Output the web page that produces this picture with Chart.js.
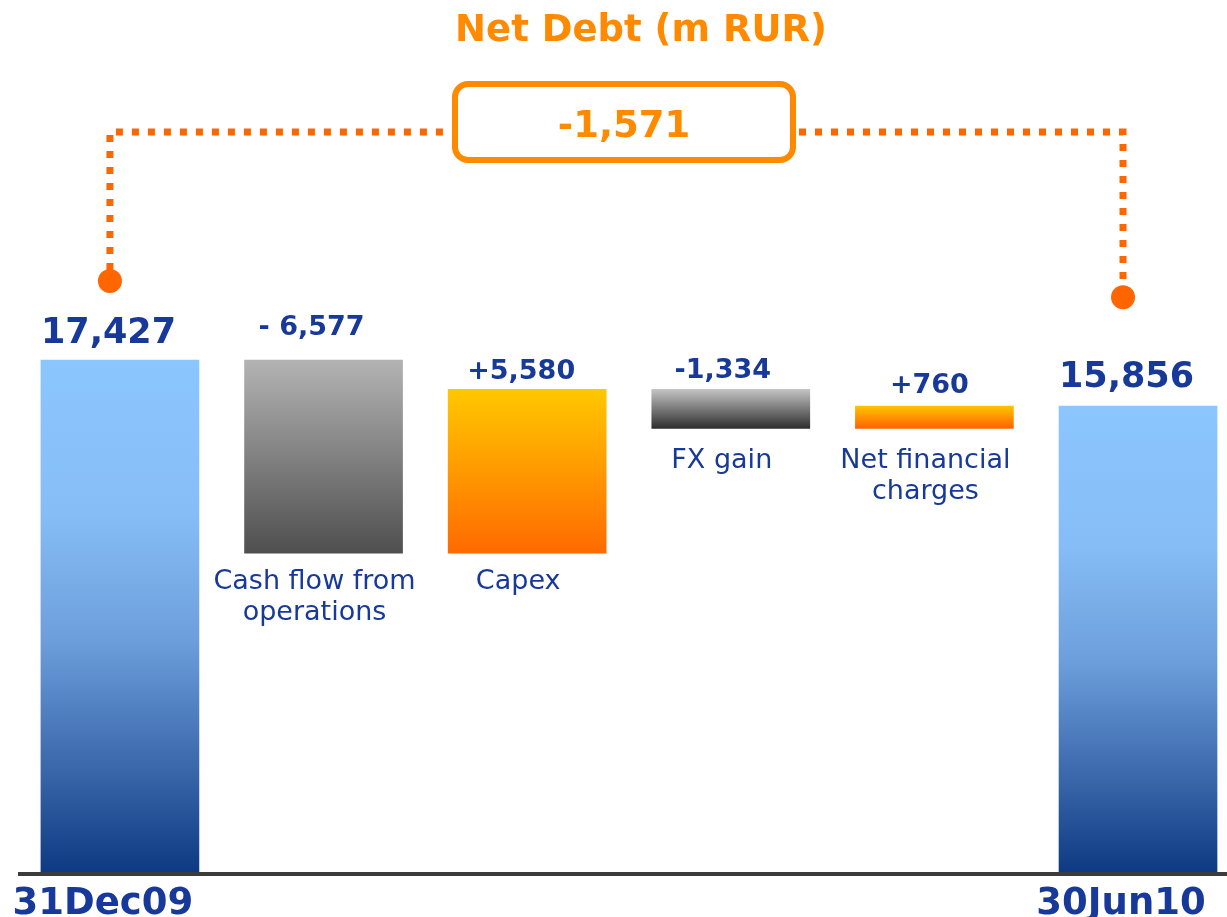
<!DOCTYPE html>
<html>
<head>
<meta charset="utf-8">
<script src="https://cdn.jsdelivr.net/npm/chart.js@4"></script>
<style>
  html, body { margin: 0; padding: 0; background: #fff; overflow: hidden; }
  #wrap { position: relative; width: 1227px; height: 917px; }
</style>
</head>
<body>
<div id="wrap"><canvas id="netDebt"></canvas></div>
<script>
// data (m RUR)
const categories = [['31Dec09'], ['Cash flow from', 'operations'], ['Capex'], ['FX gain'], ['Net financial', 'charges'], ['30Jun10']];
const openingDebt = 17427;
const movements = [-6577, 5580, -1334, 760];
const closingDebt = 15856;
const valueLabels = ['17,427', '- 6,577', '+5,580', '-1,334', '+760', '15,856'];
const chartTitle = 'Net Debt (m RUR)';

// build the waterfall ranges
let ranges = [[0, openingDebt]];
let running = openingDebt;
movements.forEach(m => {
    let next = running + m;
    ranges.push([Math.min(running, next), Math.max(running, next)]);
    running = next;
});
ranges.push([0, closingDebt]);

const points = ranges.map((r, i) => ({ x: i, y: r }));

// styling
const FONT = "'DejaVu Sans', Verdana, sans-serif";
const BLUE_TEXT = '#17399a';
const ORANGE = '#ff8a00';
const DOT_ORANGE = '#ff6600';
const labelLift = [17, 25, 10, 11, 13, 19];
const labelShift = [0, -12, -6, -8, -5, 0];

function barStops(i) {
    if (i === 0 || i === ranges.length - 1) {
        return [[0, '#8cc6ff'], [0.3, '#86bdf6'], [0.55, '#6c9edb'], [0.8, '#3a66aa'], [1, '#0d3a82']];
    }
    let m = movements[i - 1];
    if (m < 0) {
        return i === 1 ? [[0, '#b3b3b3'], [1, '#4f4f4f']] : [[0, '#c4c4c4'], [1, '#2e2e2e']];
    }
    return i === 2 ? [[0, '#ffc800'], [1, '#ff6a00']] : [[0, '#ffc400'], [1, '#ff6200']];
}

function barColor(ctx) {
    let chart = ctx.chart;
    let stops = barStops(ctx.dataIndex || 0);
    if (!chart.chartArea || ctx.type !== 'data') return stops[0][1];
    let y = chart.scales.y;
    let r = ranges[ctx.dataIndex];
    let g = chart.ctx.createLinearGradient(0, y.getPixelForValue(r[1]), 0, y.getPixelForValue(r[0]));
    stops.forEach(s => g.addColorStop(s[0], s[1]));
    return g;
}

const decorations = {
    id: 'decorations',
    afterDatasetsDraw(chart) {
        const ctx = chart.ctx;
        const x = chart.scales.x, y = chart.scales.y;
        const half = 79;
        const base = y.getPixelForValue(0);
        ctx.save();

        // axis line
        ctx.strokeStyle = '#3c3c3c';
        ctx.lineWidth = 4;
        ctx.beginPath();
        ctx.moveTo(18, base + 2);
        ctx.lineTo(chart.width, base + 2);
        ctx.stroke();

        // value labels
        ctx.fillStyle = BLUE_TEXT;
        ctx.textBaseline = 'alphabetic';
        ranges.forEach((r, i) => {
            let cx = x.getPixelForValue(i);
            let top = y.getPixelForValue(r[1]);
            let isEnd = (i === 0 || i === ranges.length - 1);
            if (isEnd) {
                ctx.font = 'bold 35px ' + FONT;
                ctx.textAlign = 'left';
                ctx.fillText(valueLabels[i], cx - half, top - labelLift[i]);
            } else {
                ctx.font = 'bold 27px ' + FONT;
                ctx.textAlign = 'center';
                ctx.fillText(valueLabels[i], cx + labelShift[i], top - labelLift[i]);
            }
        });

        // category labels under the floating bars
        ctx.font = '27px ' + FONT;
        ctx.textAlign = 'center';
        for (let i = 1; i < ranges.length - 1; i++) {
            let cx = x.getPixelForValue(i);
            let bottom = y.getPixelForValue(ranges[i][0]);
            let drop = bottom > 500 ? 36 : 40;
            categories[i].forEach((line, k) => {
                ctx.fillText(line, cx - 9, bottom + drop + k * 31);
            });
        }

        // date labels under the axis
        ctx.font = 'bold 37px ' + FONT;
        [0, ranges.length - 1].forEach(i => {
            ctx.fillText(categories[i][0], x.getPixelForValue(i) - 17, 914);
        });

        // title
        ctx.fillStyle = ORANGE;
        ctx.font = 'bold 37px ' + FONT;
        ctx.fillText(chartTitle, 641, 41);

        // connector between opening and closing
        let lx = x.getPixelForValue(0) - 10;
        let rx = x.getPixelForValue(ranges.length - 1) - 15;
        let lineY = 132;
        let boxL = 455, boxR = 793, boxT = 84, boxB = 160;
        ctx.strokeStyle = DOT_ORANGE;
        ctx.lineWidth = 7;
        ctx.setLineDash([7, 9]);
        ctx.beginPath();
        ctx.moveTo(lx, 270);
        ctx.lineTo(lx, lineY);
        ctx.lineTo(boxL - 6, lineY);
        ctx.moveTo(boxR + 6, lineY);
        ctx.lineTo(rx, lineY);
        ctx.lineTo(rx, 285);
        ctx.stroke();
        ctx.setLineDash([]);

        ctx.fillStyle = DOT_ORANGE;
        [[lx, y.getPixelForValue(ranges[0][1]) - 79], [rx, y.getPixelForValue(ranges[ranges.length - 1][1]) - 109]].forEach(p => {
            ctx.beginPath();
            ctx.arc(p[0], p[1], 12, 0, Math.PI * 2);
            ctx.fill();
        });

        // box with the change
        ctx.strokeStyle = ORANGE;
        ctx.lineWidth = 6;
        ctx.fillStyle = '#fff';
        ctx.beginPath();
        ctx.roundRect(boxL, boxT, boxR - boxL, boxB - boxT, 13);
        ctx.fill();
        ctx.stroke();

        let change = closingDebt - openingDebt;
        ctx.fillStyle = ORANGE;
        ctx.font = 'bold 37px ' + FONT;
        ctx.fillText(change.toLocaleString('en-US'), 624, 137);

        ctx.restore();
    }
};

new Chart(document.getElementById('netDebt'), {
    type: 'bar',
    data: {
        datasets: [{
            data: points,
            backgroundColor: barColor,
            borderWidth: 0,
            barThickness: 158
        }]
    },
    options: {
        responsive: true,
        maintainAspectRatio: false,
        animation: false,
        layout: { padding: { top: 0, left: 0, right: 0, bottom: 45 } },
        plugins: {
            legend: { display: false },
            tooltip: { enabled: false }
        },
        scales: {
            x: { type: 'linear', min: -0.589, max: 5.437, offset: false, display: false, grid: { display: false } },
            y: { min: 0, max: 29680, display: false, grid: { display: false } }
        }
    },
    plugins: [decorations]
});
</script>
</body>
</html>
